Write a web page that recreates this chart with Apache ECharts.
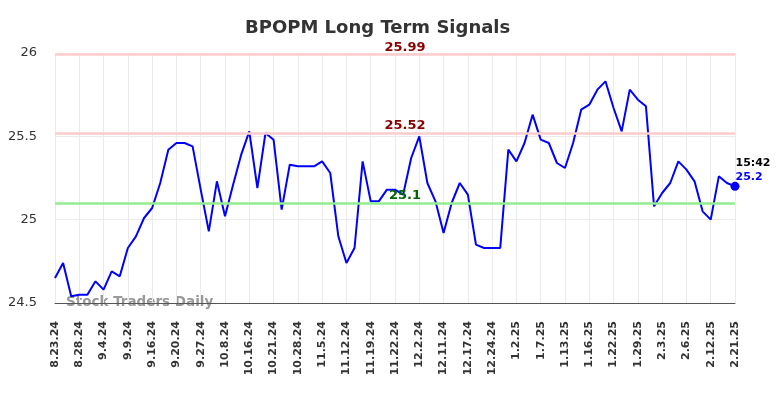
<!DOCTYPE html>
<html>
<head>
<meta charset="utf-8">
<script src="https://cdn.jsdelivr.net/npm/echarts@6/dist/echarts.min.js"></script>
<style>
  html, body { margin: 0; padding: 0; background: #fff; }
  #chart { width: 784px; height: 398px; }
</style>
</head>
<body>
<div id="chart"></div>
<script>
// tick labels, one every third point
const tickLabels = ['8.23.24', '8.28.24', '9.4.24', '9.9.24', '9.16.24', '9.20.24', '9.27.24',
  '10.8.24', '10.16.24', '10.21.24', '10.28.24', '11.5.24', '11.12.24', '11.19.24', '11.22.24',
  '12.2.24', '12.11.24', '12.17.24', '12.24.24', '1.2.25', '1.7.25', '1.13.25', '1.16.25',
  '1.22.25', '1.29.25', '2.3.25', '2.6.25', '2.12.25', '2.21.25'];

// closing prices
const prices = [
  24.65, 24.74, 24.54, 24.55, 24.55, 24.63, 24.58, 24.69, 24.66, 24.83,
  24.90, 25.01, 25.07, 25.22, 25.42, 25.46, 25.46, 25.44, 25.18, 24.93,
  25.23, 25.02, 25.21, 25.39, 25.53, 25.19, 25.52, 25.48, 25.06, 25.33,
  25.32, 25.32, 25.32, 25.35, 25.28, 24.90, 24.74, 24.83, 25.35, 25.11,
  25.11, 25.18, 25.18, 25.15, 25.37, 25.50, 25.22, 25.11, 24.92, 25.10,
  25.22, 25.15, 24.85, 24.83, 24.83, 24.83, 25.42, 25.35, 25.46, 25.63,
  25.48, 25.46, 25.34, 25.31, 25.46, 25.66, 25.69, 25.78, 25.83, 25.67,
  25.53, 25.78, 25.72, 25.68, 25.08, 25.16, 25.22, 25.35, 25.30, 25.23,
  25.05, 25.00, 25.26, 25.22, 25.20
];

const resistanceLevels = [25.99, 25.52];
const supportLevels = [25.1];
const lastTime = '15:42';

const categories = prices.map((p, i) => (i % 3 === 0 ? tickLabels[i / 3] : ''));

const chart = echarts.init(document.getElementById('chart'));

const lastIdx = prices.length - 1;
const seriesData = prices.map((v, i) => {
  if (i !== lastIdx) return v;
  return {
    value: v,
    symbol: 'circle',
    symbolSize: 9,
    itemStyle: { color: '#0000ff' },
    label: {
      show: true,
      position: 'right',
      distance: 0,
      offset: [-4, -16],
      align: 'left',
      formatter: '{t|' + lastTime + '}\n{v|' + v + '}',
      rich: {
        t: { color: '#000', fontWeight: 'bold', fontSize: 11, lineHeight: 14, fontFamily: 'DejaVu Sans' },
        v: { color: '#0000ff', fontWeight: 'bold', fontSize: 11, lineHeight: 14, fontFamily: 'DejaVu Sans' }
      }
    }
  };
});

const levelLines = resistanceLevels.map(v => ({
  yAxis: v,
  lineStyle: { color: '#ffcccc', width: 2.5, type: 'solid' },
  label: { color: '#8b0000' }
})).concat(supportLevels.map(v => ({
  yAxis: v,
  lineStyle: { color: '#90ee90', width: 2.5, type: 'solid' },
  label: { color: '#006400' }
})));

const option = {
  animation: false,
  title: {
    text: 'BPOPM Long Term Signals',
    left: 240,
    top: 14,
    textStyle: { fontSize: 18, fontWeight: 'bold', color: '#333', fontFamily: 'DejaVu Sans' }
  },
  grid: { left: 55, right: 49, top: 53, bottom: 95 },
  xAxis: {
    type: 'category',
    data: categories,
    boundaryGap: false,
    axisLine: { lineStyle: { color: '#555', width: 1 } },
    axisTick: { show: false },
    axisLabel: {
      interval: 2,
      rotate: 90,
      margin: 18,
      fontSize: 11,
      fontWeight: 'bold',
      color: '#333',
      fontFamily: 'DejaVu Sans'
    },
    splitLine: { show: true, interval: 2, lineStyle: { color: '#ebebeb' } }
  },
  yAxis: {
    type: 'value',
    min: 24.5,
    max: 26,
    interval: 0.5,
    axisLine: { show: false },
    axisTick: { show: false },
    axisLabel: { fontSize: 13, color: '#333', margin: 18, fontFamily: 'DejaVu Sans' },
    splitLine: { lineStyle: { color: '#ebebeb' } }
  },
  graphic: [{
    type: 'text',
    left: 66,
    top: 295,
    style: {
      text: 'Stock Traders Daily',
      fontSize: 13.5,
      fontWeight: 'bold',
      fill: 'rgba(128,128,128,0.8)',
      fontFamily: 'DejaVu Sans'
    }
  }],
  series: [{
    type: 'line',
    data: seriesData,
    showSymbol: true,
    symbol: 'none',
    lineStyle: { color: '#0000ff', width: 2 },
    itemStyle: { color: '#0000ff' },
    z: 3,
    markLine: {
      silent: true,
      symbol: 'none',
      data: levelLines,
      label: {
        position: 'middle',
        distance: 1,
        padding: [0, 0, 0, 20],
        fontSize: 13,
        fontWeight: 'bold',
        fontFamily: 'DejaVu Sans',
        formatter: p => String(p.value)
      }
    }
  }]
};

chart.setOption(option);
</script>
</body>
</html>
